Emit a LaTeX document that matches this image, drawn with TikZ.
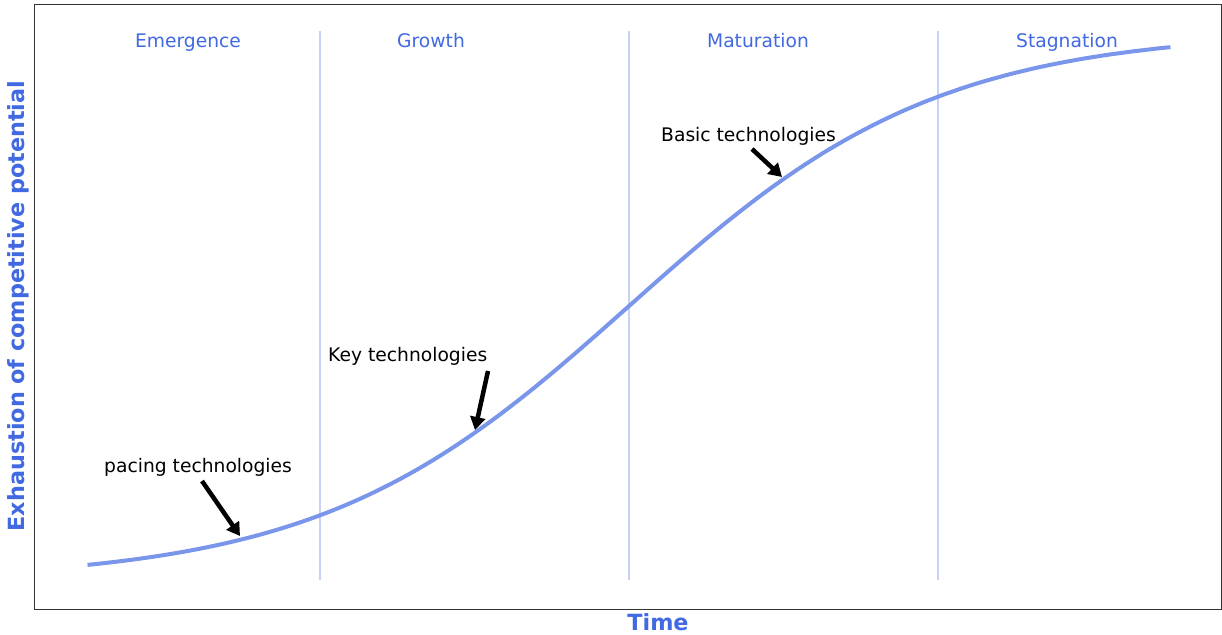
\documentclass[tikz,border=0pt]{standalone}
\usepackage{fontspec}
\setmainfont{DejaVu Sans}
\usepackage{tikz}
\usetikzlibrary{arrows.meta}
\definecolor{royal}{RGB}{65,105,225}
\definecolor{curveblue}{RGB}{122,150,234}
\definecolor{phaseline}{RGB}{198,210,246}
\tikzset{
  phase/.style = {text=royal, anchor=base, inner sep=0pt, font=\fontsize{18.7}{21}\selectfont},
  note/.style = {text=black, anchor=base west, inner sep=0pt, font=\fontsize{18.7}{21}\selectfont},
  axislabel/.style = {text=royal, anchor=base, inner sep=0pt, font=\fontsize{22.3}{25}\selectfont\bfseries},
  pointer/.style = {line width=4.5pt, -{Triangle[length=13pt,width=15pt]}},
}

\begin{document}
\begin{tikzpicture}[x=1pt, y=-1pt]
   \useasboundingbox (0,0) rectangle (1222,634);
   \draw[line width=0.8pt, black!80] (34,4) rectangle (1221,609);
   % phase borders
   \foreach \px in {320,629,938}
     \draw[phaseline, line width=1.2pt] (\px,31) -- (\px,580);
   \node[phase] (emergence)  at (188,48)  {Emergence};
   \node[phase] (growth)     at (431,48)  {Growth};
   \node[phase] (maturation) at (758,48)  {Maturation};
   \node[phase] (stagnation) at (1067,48) {Stagnation};
   % s-curve
   \draw[curveblue, line width=4pt] plot[domain=-3.5:3.5, samples=120, smooth]
     ({629+154.7*\x}, {306-550*(1/(1+exp(-\x))-0.5)});
   \node[note] (pacing) at (104,472) {pacing technologies};
   \node[note] (key)    at (328,361) {Key technologies};
   \node[note] (basic)  at (661,141) {Basic technologies};
   \coordinate (pacing_s) at (202,481);
   \coordinate (pacing_e) at (240,536);
   \coordinate (key_s)    at (488,371);
   \coordinate (key_e)    at (475,430);
   \coordinate (basic_s)  at (752,149);
   \coordinate (basic_e)  at (782,177);
   \draw[pointer] (pacing_s) -- (pacing_e);
   \draw[pointer] (key_s) -- (key_e);
   \draw[pointer] (basic_s) -- (basic_e);
   % axis labels
   \node[axislabel] (xlabel) at (658,630) {Time};
   \node[axislabel, rotate=90] (ylabel) at (24,306) {Exhaustion of competitive potential};
\end{tikzpicture}
\end{document}
